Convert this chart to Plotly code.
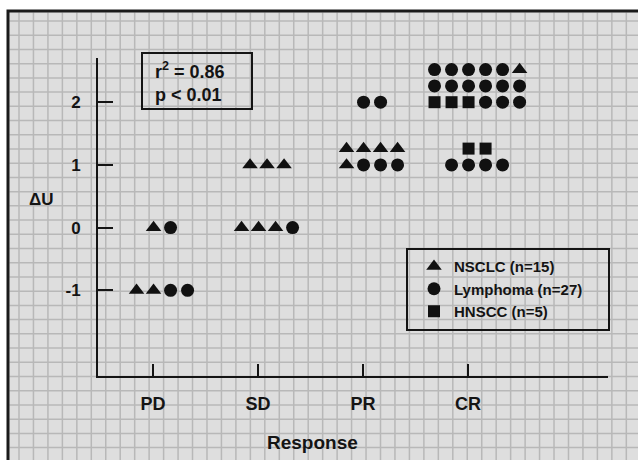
import plotly.graph_objects as go

# ---------------- data ----------------
responses = ["PD", "SD", "PR", "CR"]
delta_u_ticks = [-1, 0, 1, 2]
delta_u_tick_labels = ["-1", "0", "1", "2"]

group_codes = ["N", "L", "H"]
group_names = ["NSCLC (n=15)", "Lymphoma (n=27)", "HNSCC (n=5)"]
group_symbols = ["triangle-up", "circle", "square"]

# each cell: response category, ΔU value, and the tumour type of every patient in it
cell_response = ["PD", "PD", "SD", "SD", "PR", "PR", "CR", "CR"]
cell_delta_u = [-1, 0, 0, 1, 1, 2, 1, 2]
cell_patients = [
    ["N", "N", "L", "L"],
    ["N", "L"],
    ["N", "N", "N", "L"],
    ["N", "N", "N"],
    ["N", "L", "L", "L", "N", "N", "N", "N"],
    ["L", "L"],
    ["L", "L", "L", "L", "H", "H"],
    ["H", "H", "H", "L", "L", "L",
     "L", "L", "L", "L", "L", "L",
     "L", "L", "L", "L", "L", "N"],
]

r_squared = 0.86
p_text = "p &lt; 0.01"

# ---------------- layout helpers ----------------
DX, DY, X_OFF = 0.162, 0.26, 0.086
W, H = 638, 460
ML, MR, MT, MB = 98, 30, 58, 84
PW, PH = W - ML - MR, H - MT - MB


def px_x(px):
    return (px - ML) / PW


def px_y(py):
    return (H - MB - py) / PH


xs = {c: [] for c in group_codes}
ys = {c: [] for c in group_codes}
for resp, du, pts in zip(cell_response, cell_delta_u, cell_patients):
    n = len(pts)
    per_row = 6 if n > 8 else 4
    base_x = responses.index(resp) + 1 + X_OFF
    for k, code in enumerate(pts):
        r, i = divmod(k, per_row)
        n_row = min(per_row, n - r * per_row)
        xs[code].append(base_x + (i - (n_row - 1) / 2) * DX)
        ys[code].append(du + r * DY)

fig = go.Figure()
for code, name, sym in zip(group_codes, group_names, group_symbols):
    size = {"triangle-up": 13.5, "circle": 13, "square": 12}[sym]
    fig.add_trace(go.Scatter(
        x=xs[code], y=ys[code], mode="markers", name=name,
        marker=dict(symbol=sym, size=size, color="#111111", line=dict(width=0)),
    ))

FONT = "Liberation Sans, Arial, Helvetica, sans-serif"
INK = "#141414"

shapes = []
# textured background (frame fill + grid)
fx0, fx1 = px_x(8), px_x(W + 10)
fy0, fy1 = px_y(H + 10), px_y(11)
shapes.append(dict(type="rect", xref="paper", yref="paper", x0=fx0, x1=fx1, y0=fy0, y1=fy1,
                   line=dict(width=0), fillcolor="#dedede", layer="below"))
gx = 19.0
while gx < W:
    shapes.append(dict(type="line", xref="paper", yref="paper", x0=px_x(gx), x1=px_x(gx),
                       y0=px_y(H + 5), y1=px_y(12.5), line=dict(color="#b8b8b8", width=1.5), layer="below"))
    gx += 14.46
gy = 21.0
while gy < H:
    shapes.append(dict(type="line", xref="paper", yref="paper", x0=px_x(9.5), x1=px_x(W + 5),
                       y0=px_y(gy), y1=px_y(gy), line=dict(color="#b8b8b8", width=1.5), layer="below"))
    gy += 14.22
shapes.append(dict(type="rect", xref="paper", yref="paper", x0=fx0, x1=fx1, y0=fy0, y1=fy1,
                   line=dict(width=3, color="#1a1a1a"), fillcolor="rgba(0,0,0,0)", layer="below"))
# stats box
shapes.append(dict(type="rect", xref="paper", yref="paper", x0=px_x(142), x1=px_x(252),
                   y0=px_y(109), y1=px_y(53), line=dict(width=2, color=INK)))
# legend box
shapes.append(dict(type="rect", xref="paper", yref="paper", x0=px_x(407), x1=px_x(609),
                   y0=px_y(330), y1=px_y(249), line=dict(width=2, color=INK)))

annotations = [
    dict(xref="paper", yref="paper", x=px_x(153), y=px_y(82), xanchor="left", yanchor="middle",
         text=f"r<sup>2</sup> = {r_squared:.2f}<br>{p_text}", align="left", showarrow=False,
         font=dict(family=FONT, size=18, color=INK, weight="bold")),
    dict(xref="paper", yref="paper", x=px_x(41), y=px_y(199), xanchor="center", yanchor="middle",
         text="ΔU", showarrow=False, font=dict(family=FONT, size=17, color=INK, weight="bold")),
    dict(xref="paper", yref="paper", x=px_x(312), y=px_y(442), xanchor="center", yanchor="middle",
         text="Response", showarrow=False, font=dict(family=FONT, size=19, color=INK, weight="bold")),
]

fig.update_layout(
    width=W, height=H,
    margin=dict(l=ML, r=MR, t=MT, b=MB, pad=0),
    paper_bgcolor="white", plot_bgcolor="rgba(0,0,0,0)",
    font=dict(family=FONT, color=INK),
    shapes=shapes, annotations=annotations,
    showlegend=True,
    legend=dict(x=px_x(414), y=px_y(250), xanchor="left", yanchor="top",
                bgcolor="rgba(0,0,0,0)", borderwidth=0,
                font=dict(family=FONT, size=15, color=INK, weight="bold"),
                itemclick=False, itemdoubleclick=False),
    xaxis=dict(range=[0.476, 5.333], tickmode="array", tickvals=[1, 2, 3, 4], ticktext=responses,
               showline=True, linewidth=2, linecolor=INK, ticks="inside", ticklen=12, tickwidth=2,
               tickcolor=INK, showgrid=False, zeroline=False, ticklabelstandoff=10,
               tickfont=dict(family=FONT, size=18, color=INK, weight="bold")),
    yaxis=dict(range=[-2.367, 2.705], tickmode="array", tickvals=delta_u_ticks, ticktext=delta_u_tick_labels,
               showline=True, linewidth=2, linecolor=INK, ticks="inside", ticklen=15, tickwidth=2,
               tickcolor=INK, showgrid=False, zeroline=False, ticklabelstandoff=12,
               tickfont=dict(family=FONT, size=17, color=INK, weight="bold")),
)

fig.write_html("out.html", config={"displayModeBar": False},
               post_script="document.body.style.margin='0';")
